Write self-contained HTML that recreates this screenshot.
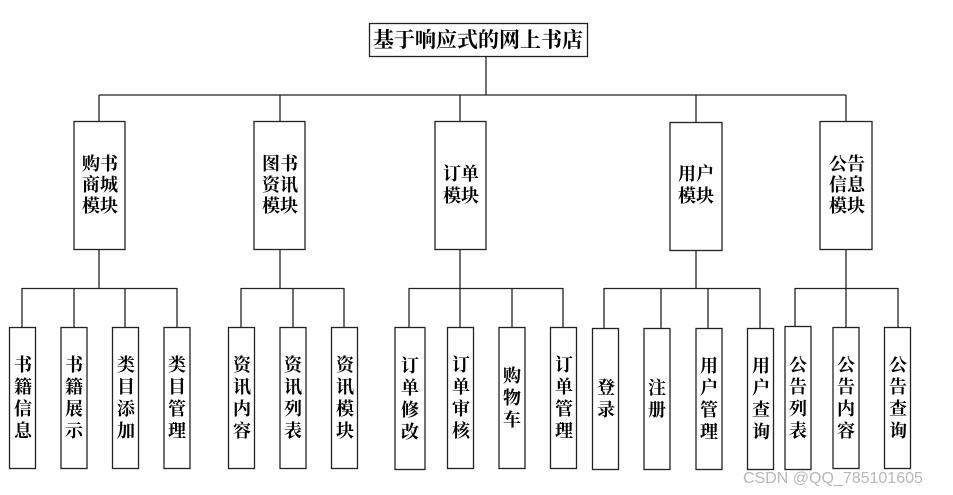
<!DOCTYPE html>
<html><head><meta charset="utf-8"><style>
html,body{margin:0;padding:0;background:#fff;width:953px;height:495px;overflow:hidden}
svg text{font-family:"Liberation Serif","Noto Serif CJK SC","Noto Sans CJK SC",serif;font-weight:bold;fill:#000}
</style></head><body>
<svg width="953" height="495" viewBox="0 0 953 495" xmlns="http://www.w3.org/2000/svg">
<g stroke="#222" stroke-width="1.3" fill="none">
<rect x="369.5" y="23.5" width="218" height="33"/>
<line x1="486" y1="56" x2="486" y2="95"/>
<line x1="99" y1="95" x2="846" y2="95"/>
<line x1="99" y1="95" x2="99" y2="121"/>
<line x1="280" y1="95" x2="280" y2="121"/>
<line x1="460" y1="95" x2="460" y2="121"/>
<line x1="696" y1="95" x2="696" y2="122"/>
<line x1="846" y1="95" x2="846" y2="121"/>
<rect x="74" y="121.5" width="51" height="128"/>
<rect x="254" y="121.5" width="51" height="128"/>
<rect x="435" y="121.5" width="51" height="128"/>
<rect x="670" y="122.5" width="52" height="128"/>
<rect x="820" y="121.5" width="52" height="128"/>
<line x1="99" y1="250" x2="99" y2="288"/>
<line x1="280" y1="250" x2="280" y2="288"/>
<line x1="460" y1="250" x2="460" y2="288"/>
<line x1="696" y1="251" x2="696" y2="288"/>
<line x1="846" y1="250" x2="846" y2="288"/>
<line x1="22" y1="288.5" x2="177" y2="288.5"/>
<line x1="241" y1="288.5" x2="344" y2="288.5"/>
<line x1="409" y1="288.5" x2="563" y2="288.5"/>
<line x1="604" y1="288.5" x2="760" y2="288.5"/>
<line x1="795" y1="288.5" x2="898" y2="288.5"/>
<line x1="22" y1="288" x2="22" y2="327"/><line x1="74" y1="288" x2="74" y2="327"/><line x1="125" y1="288" x2="125" y2="327"/><line x1="177" y1="288" x2="177" y2="327"/>
<line x1="241" y1="288" x2="241" y2="327"/><line x1="293" y1="288" x2="293" y2="327"/><line x1="344" y1="288" x2="344" y2="327"/>
<line x1="409" y1="288" x2="409" y2="327"/><line x1="460" y1="288" x2="460" y2="327"/><line x1="512" y1="288" x2="512" y2="327"/><line x1="563" y1="288" x2="563" y2="327"/>
<line x1="604" y1="288" x2="604" y2="328"/><line x1="661" y1="288" x2="661" y2="328"/><line x1="708" y1="288" x2="708" y2="328"/><line x1="760" y1="288" x2="760" y2="328"/>
<line x1="795" y1="288" x2="795" y2="326"/><line x1="846" y1="288" x2="846" y2="327"/><line x1="898" y1="288" x2="898" y2="327"/>
<rect x="9.5" y="327.5" width="26" height="141"/>
<rect x="61" y="327.5" width="26" height="141"/>
<rect x="112.5" y="327.5" width="26" height="141"/>
<rect x="164" y="327.5" width="26" height="141"/>
<rect x="228.5" y="327.5" width="26" height="141"/>
<rect x="280" y="327.5" width="26" height="141"/>
<rect x="331.5" y="327.5" width="26" height="141"/>
<rect x="395" y="327.5" width="30" height="142"/>
<rect x="447.5" y="327.5" width="26" height="141"/>
<rect x="499" y="327.5" width="26" height="141"/>
<rect x="550.5" y="327.5" width="26" height="141"/>
<rect x="592.5" y="328.5" width="26" height="141"/>
<rect x="644" y="328.5" width="26" height="141"/>
<rect x="696" y="328.5" width="26" height="141"/>
<rect x="747.5" y="328.5" width="26" height="141"/>
<rect x="785" y="326.5" width="26" height="143"/>
<rect x="833" y="327.5" width="26" height="141"/>
<rect x="884.5" y="327.5" width="26" height="141"/>
</g>
<g text-anchor="middle" dominant-baseline="central">
<text x="478" y="40" font-size="21">基于响应式的网上书店</text>
<g font-size="18">
<text x="100" y="164">购书</text><text x="100" y="185">商城</text><text x="100" y="206">模块</text>
<text x="280" y="164">图书</text><text x="280" y="185">资讯</text><text x="280" y="206">模块</text>
<text x="461" y="174">订单</text><text x="461" y="196">模块</text>
<text x="696" y="174">用户</text><text x="696" y="196">模块</text>
<text x="847" y="164">公告</text><text x="847" y="185">信息</text><text x="847" y="206">模块</text>
</g>
<g font-size="18">
<text x="23" y="365">书</text><text x="23" y="387">籍</text><text x="23" y="409">信</text><text x="23" y="431">息</text>
<text x="74" y="365">书</text><text x="74" y="387">籍</text><text x="74" y="409">展</text><text x="74" y="431">示</text>
<text x="126" y="365">类</text><text x="126" y="387">目</text><text x="126" y="409">添</text><text x="126" y="431">加</text>
<text x="177" y="365">类</text><text x="177" y="387">目</text><text x="177" y="409">管</text><text x="177" y="431">理</text>
<text x="242" y="365">资</text><text x="242" y="387">讯</text><text x="242" y="409">内</text><text x="242" y="431">容</text>
<text x="293" y="365">资</text><text x="293" y="387">讯</text><text x="293" y="409">列</text><text x="293" y="431">表</text>
<text x="345" y="365">资</text><text x="345" y="387">讯</text><text x="345" y="409">模</text><text x="345" y="431">块</text>
<text x="410" y="366">订</text><text x="410" y="388">单</text><text x="410" y="410">修</text><text x="410" y="432">改</text>
<text x="461" y="365">订</text><text x="461" y="387">单</text><text x="461" y="409">审</text><text x="461" y="431">核</text>
<text x="512" y="376">购</text><text x="512" y="398">物</text><text x="512" y="420">车</text>
<text x="564" y="365">订</text><text x="564" y="387">单</text><text x="564" y="409">管</text><text x="564" y="431">理</text>
<text x="606" y="388">登</text><text x="606" y="410">录</text>
<text x="657" y="388">注</text><text x="657" y="410">册</text>
<text x="709" y="366">用</text><text x="709" y="388">户</text><text x="709" y="410">管</text><text x="709" y="432">理</text>
<text x="761" y="366">用</text><text x="761" y="388">户</text><text x="761" y="410">查</text><text x="761" y="432">询</text>
<text x="798" y="365">公</text><text x="798" y="387">告</text><text x="798" y="409">列</text><text x="798" y="431">表</text>
<text x="846" y="365">公</text><text x="846" y="387">告</text><text x="846" y="409">内</text><text x="846" y="431">容</text>
<text x="898" y="365">公</text><text x="898" y="387">告</text><text x="898" y="409">查</text><text x="898" y="431">询</text>
</g>
</g>
<text x="743" y="483" font-size="16" style="font-family:'Liberation Sans',sans-serif;font-weight:normal;fill:#b8b8b8">CSDN @QQ_785101605</text>
</svg>
</body></html>
